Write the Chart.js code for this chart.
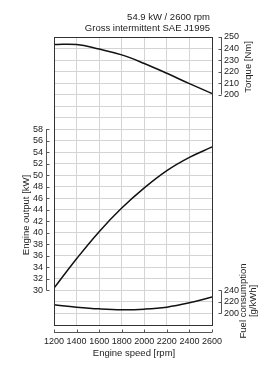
<!DOCTYPE html>
<html>
<head>
<meta charset="utf-8">
<script src="https://cdn.jsdelivr.net/npm/chart.js@4"></script>
<style>
  body { margin: 0; background: #fff; }
  #wrap { width: 269px; height: 380px; }
</style>
</head>
<body>
<div id="wrap"><canvas id="chart" width="269" height="380"></canvas></div>
<script>
// engine speed [rpm]
const speeds = [1200, 1400, 1600, 1800, 2000, 2200, 2400, 2600];
// curves
const outputKw = [30.4, 35.5, 40.2, 44.3, 47.8, 50.8, 53.1, 54.9];
const torqueNm = [243.5, 243.5, 239.5, 234.5, 227, 218.5, 209.5, 201];
const fuelGkwh = [215, 211, 208, 206.5, 207.5, 211, 218.5, 228.5];

// labelled part of each axis: from, to, step
const outputTicks = [30, 58, 2];
const torqueTicks = [200, 250, 10];
const fuelTicks = [200, 240, 20];

const FONT = "'Liberation Sans', Arial, sans-serif";
const INK = "#222";

function pts(ys) {
  return speeds.map((s, i) => ({ x: s, y: ys[i] }));
}

function onlyIn(range) {
  return (v) => (v >= range[0] && v <= range[1] ? String(v) : "");
}

// bracket style axis lines, drawn off the scales
function bracket(ctx, scale, range, x, len) {
  ctx.beginPath();
  ctx.moveTo(x, scale.getPixelForValue(range[0]));
  ctx.lineTo(x, scale.getPixelForValue(range[1]));
  for (let v = range[0]; v <= range[1]; v += range[2]) {
    const y = Math.round(scale.getPixelForValue(v)) + 0.5;
    ctx.moveTo(x, y);
    ctx.lineTo(x + len, y);
  }
  ctx.stroke();
}

function vText(ctx, text, x, y) {
  ctx.save();
  ctx.translate(x, y);
  ctx.rotate(-Math.PI / 2);
  ctx.fillText(text, 0, 0);
  ctx.restore();
}

const decorations = {
  id: "decorations",
  afterDraw(chart) {
    const { ctx, chartArea: a, scales } = chart;
    ctx.save();
    ctx.strokeStyle = "#333";
    ctx.lineWidth = 1;
    ctx.strokeRect(Math.round(a.left) + 0.5, Math.round(a.top) + 0.5,
      Math.round(a.right - a.left), Math.round(a.bottom - a.top));

    ctx.strokeStyle = "#555";
    bracket(ctx, scales.y, outputTicks, 46.5, 3);
    bracket(ctx, scales.yT, torqueTicks, 221.5, -3);
    bracket(ctx, scales.yF, fuelTicks, 221.5, -3);

    // speed axis below the frame
    const xs = scales.x;
    const yAx = 332.5;
    ctx.beginPath();
    ctx.moveTo(xs.getPixelForValue(speeds[0]), yAx);
    ctx.lineTo(xs.getPixelForValue(speeds[speeds.length - 1]), yAx);
    for (const s of speeds) {
      const x = Math.round(xs.getPixelForValue(s)) + 0.5;
      ctx.moveTo(x, yAx);
      ctx.lineTo(x, yAx - 3);
    }
    ctx.stroke();

    ctx.fillStyle = INK;
    ctx.font = "9.5px " + FONT;
    ctx.textBaseline = "middle";
    ctx.textAlign = "right";
    ctx.fillText("54.9 kW / 2600 rpm", 210, 17);
    ctx.fillText("Gross intermittent SAE J1995", 210, 28);

    ctx.textAlign = "center";
    ctx.fillText("Engine speed [rpm]", 134, 353);
    vText(ctx, "Engine output [kW]", 26, 215);
    vText(ctx, "Torque [Nm]", 248, 67);
    vText(ctx, "Fuel consumption", 243, 301);
    vText(ctx, "[g/kWh]", 253, 301);
    ctx.restore();
  }
};

const tickFont = { family: FONT, size: 9 };
const gridColor = "#d4d4d4";

// right hand scales share one slot, so they take no width and sit mirrored
const rightScale = (min, max, step, range) => ({
  position: "right",
  min: min,
  max: max,
  afterFit: (s) => { s.width = 0; },
  ticks: {
    stepSize: step, autoSkip: false, mirror: true, crossAlign: "near",
    padding: 27, color: INK, font: tickFont, callback: onlyIn(range)
  },
  grid: { display: false, drawTicks: false },
  border: { display: false }
});

new Chart(document.getElementById("chart"), {
  type: "line",
  data: {
    datasets: [
      { label: "Torque", data: pts(torqueNm), yAxisID: "yT" },
      { label: "Engine output", data: pts(outputKw), yAxisID: "y" },
      { label: "Fuel consumption", data: pts(fuelGkwh), yAxisID: "yF" }
    ].map((d) => Object.assign(d, {
      borderColor: "#111",
      borderWidth: 1.5,
      pointRadius: 0,
      fill: false,
      tension: 0.4
    }))
  },
  options: {
    responsive: false,
    animation: false,
    layout: { padding: { left: 0, right: 57, top: 37, bottom: 0 } },
    plugins: { legend: { display: false }, tooltip: { enabled: false } },
    scales: {
      x: {
        type: "linear",
        min: 1200,
        max: 2600,
        afterFit: (s) => { s.height = 55; },
        ticks: {
          stepSize: 200, autoSkip: false, padding: 11, color: INK, font: tickFont,
          maxRotation: 0, callback: (v) => String(v)
        },
        grid: { color: gridColor, drawTicks: false },
        border: { display: false }
      },
      y: {
        position: "left",
        min: 24,
        max: 74,
        afterFit: (s) => { s.width = 54; },
        ticks: { stepSize: 2, autoSkip: false, padding: 11, color: INK, font: tickFont, callback: onlyIn(outputTicks) },
        grid: { color: gridColor, drawTicks: false },
        border: { display: false }
      },
      yT: rightScale(0, 250, 10, torqueTicks),
      yF: rightScale(180, 680, 20, fuelTicks)
    }
  },
  plugins: [decorations]
});
</script>
</body>
</html>
